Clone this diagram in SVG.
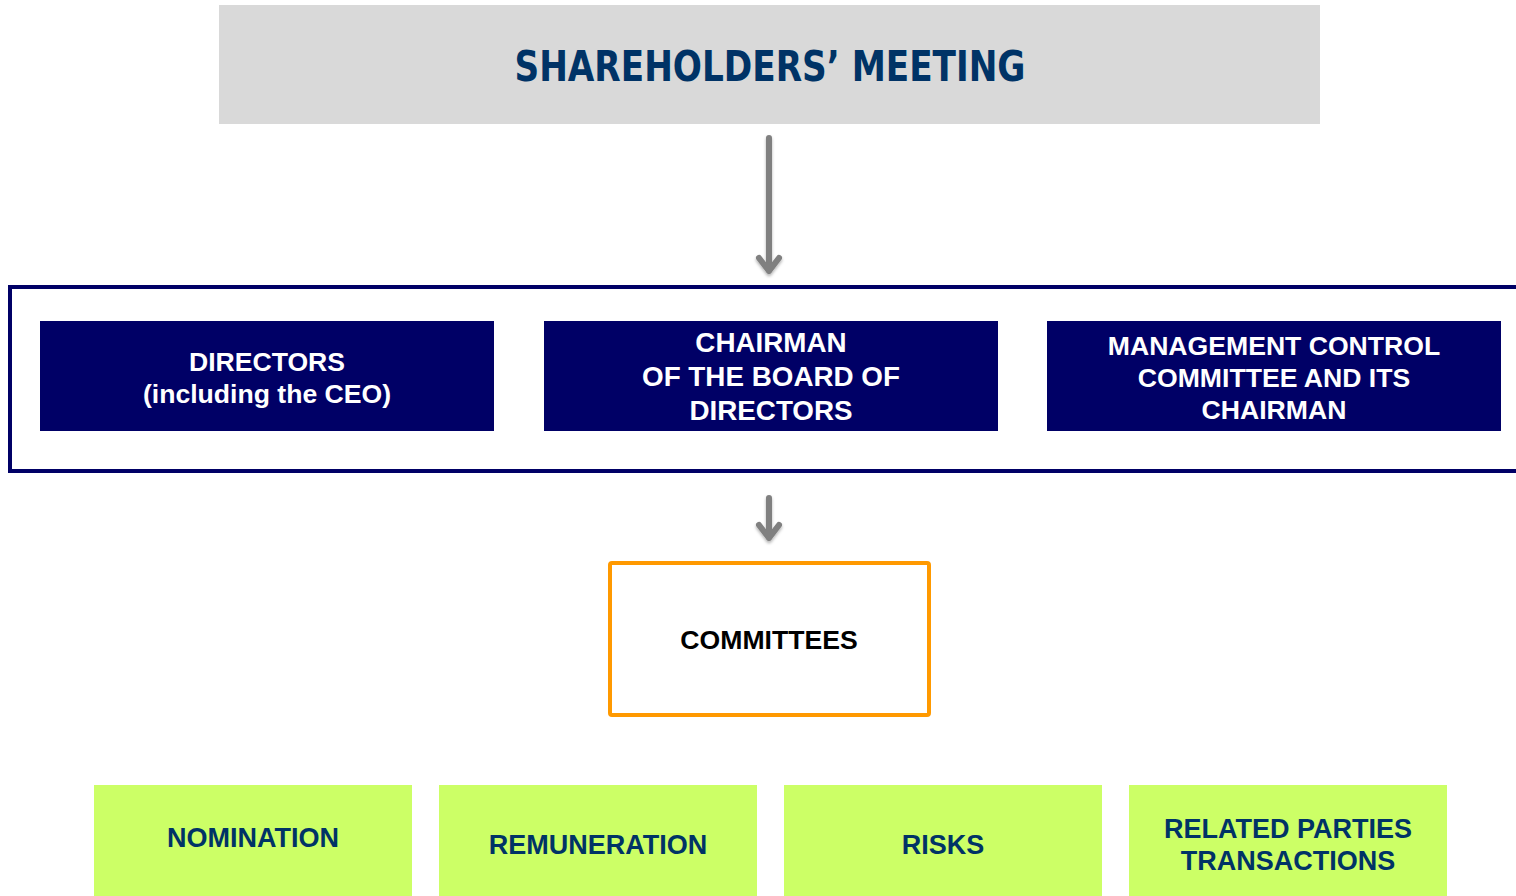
<svg xmlns="http://www.w3.org/2000/svg" width="1516" height="896" viewBox="0 0 1516 896">
<defs>
<style>
.bt{font-family:"Liberation Sans",Arial,sans-serif;font-weight:bold;font-size:26.6px;text-anchor:middle}
.nv{fill:#000066}
.wt{fill:#ffffff}
.ch{font-size:27.8px}
.gr{fill:#ccff66}
.gt{fill:#003366;font-size:27px}
.conn{stroke:#808080;stroke-width:6;fill:none;stroke-linecap:round;stroke-linejoin:round}
</style>
<filter id="sh" x="-50%" y="-10%" width="200%" height="130%"><feDropShadow dx="0" dy="2" stdDeviation="1.5" flood-color="#000" flood-opacity="0.3"/></filter>
</defs>
<rect width="1516" height="896" fill="#ffffff"/>
<g id="shareholders">
<rect x="219" y="5" width="1101" height="119" fill="#d9d9d9"/>
<text x="770" y="81" font-family="'DejaVu Sans Condensed','DejaVu Sans',sans-serif" font-weight="bold" font-size="42" fill="#003366" text-anchor="middle" textLength="511" lengthAdjust="spacingAndGlyphs">SHAREHOLDERS’ MEETING</text>
</g>
<g id="board">
<path d="M1516 287 H10 V471 H1516" fill="none" stroke="#000066" stroke-width="4"/>
</g>
<g id="directors">
<rect class="nv" x="40" y="321" width="454" height="110"/>
<text class="bt wt" x="267" y="371">DIRECTORS</text>
<text class="bt wt" x="267" y="403">(including the CEO)</text>
</g>
<g id="chairman">
<rect class="nv" x="544" y="321" width="454" height="110"/>
<text class="bt wt ch" x="771" y="352">CHAIRMAN</text>
<text class="bt wt ch" x="771" y="386">OF THE BOARD OF</text>
<text class="bt wt ch" x="771" y="420">DIRECTORS</text>
</g>
<g id="management">
<rect class="nv" x="1047" y="321" width="454" height="110"/>
<text class="bt wt" x="1274" y="355">MANAGEMENT CONTROL</text>
<text class="bt wt" x="1274" y="387">COMMITTEE AND ITS</text>
<text class="bt wt" x="1274" y="419">CHAIRMAN</text>
</g>
<g id="committees">
<rect x="610" y="563" width="319" height="152" rx="2" fill="#ffffff" stroke="#ff9900" stroke-width="4"/>
<text class="bt" x="769" y="649" fill="#000000">COMMITTEES</text>
</g>
<g id="nomination">
<rect class="gr" x="94" y="785" width="318" height="111"/>
<text class="bt gt" x="253" y="847">NOMINATION</text>
</g>
<g id="remuneration">
<rect class="gr" x="439" y="785" width="318" height="111"/>
<text class="bt gt" x="598" y="854">REMUNERATION</text>
</g>
<g id="risks">
<rect class="gr" x="784" y="785" width="318" height="111"/>
<text class="bt gt" x="943" y="854">RISKS</text>
</g>
<g id="related">
<rect class="gr" x="1129" y="785" width="318" height="111"/>
<text class="bt gt" x="1288" y="838">RELATED PARTIES</text>
<text class="bt gt" x="1288" y="870">TRANSACTIONS</text>
</g>
<g id="connectors" filter="url(#sh)">
<path class="conn" d="M769 138 V271 M759 258 L769 271 L779 258"/>
<path class="conn" d="M769 498 V538 M759 525 L769 538 L779 525"/>
</g>
</svg>
